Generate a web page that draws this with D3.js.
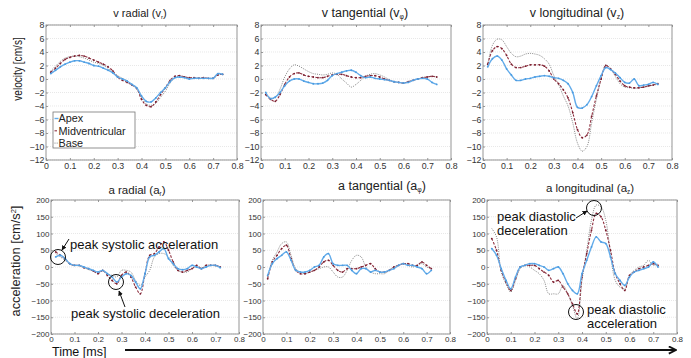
<!DOCTYPE html>
<html>
<head>
<meta charset="utf-8">
<script src="https://cdn.jsdelivr.net/npm/d3@7"></script>
<style>
  body { margin: 0; background: #fff; }
  text { font-family: "Liberation Sans", Arial, sans-serif; }
</style>
</head>
<body>
<svg id="chart" width="691" height="358"></svg>
<script>
// time axes (s)
const tTop = [0.02,0.04,0.06,0.08,0.10,0.12,0.14,0.16,0.18,0.20,0.22,0.24,0.26,0.28,0.30,0.32,0.34,0.36,0.38,0.40,0.42,0.44,0.46,0.48,0.50,0.52,0.54,0.56,0.58,0.60,0.62,0.64,0.66,0.68,0.70,0.72,0.74];
const tBottom = [0.02,0.04,0.06,0.08,0.10,0.12,0.14,0.16,0.18,0.20,0.22,0.24,0.26,0.28,0.30,0.32,0.34,0.36,0.38,0.40,0.42,0.44,0.46,0.48,0.50,0.52,0.54,0.56,0.58,0.60,0.62,0.64,0.66,0.68,0.70,0.72];

const seriesNames = ["Apex", "Midventricular", "Base"];

// velocity [cm/s]
const vrApex = [0.8,1.3,1.8,2.2,2.5,2.7,2.7,2.5,2.3,2.0,1.9,1.6,1.3,0.9,0.3,0.0,-0.3,-0.8,-1.3,-2.5,-3.3,-3.4,-2.8,-2.0,-1.3,-0.4,0.2,0.3,0.2,0.0,0.1,0.1,0.1,0.1,0.1,0.8,0.7];
const vrMid  = [1.0,1.6,2.3,2.9,3.2,3.4,3.5,3.4,3.1,2.8,2.5,2.2,1.8,1.2,0.3,-0.2,-0.5,-0.9,-1.4,-3.0,-3.9,-4.1,-3.4,-2.3,-1.3,-0.2,0.4,0.5,0.3,0.2,0.2,0.1,0.2,0.1,0.1,0.6,0.7];
const vrBase = [1.2,1.9,2.6,3.1,3.3,3.4,3.3,3.1,2.8,2.5,2.3,2.0,1.6,1.0,0.5,0.1,-0.3,-0.8,-1.5,-2.7,-3.7,-3.9,-3.6,-2.7,-1.8,-0.6,0.2,0.4,0.3,0.1,0.1,0.2,0.1,0.1,0.2,0.6,0.7];

const vtApex = [-2.0,-2.9,-2.7,-2.0,-1.0,-0.3,0.0,0.0,-0.3,-0.5,-0.7,-0.7,-0.6,-0.2,0.5,0.8,1.0,1.2,1.3,1.0,0.5,0.2,0.3,0.1,0.0,-0.1,-0.2,-0.4,-0.5,-0.6,-0.5,-0.2,0.0,0.1,0.0,-0.5,-0.8];
const vtMid  = [-2.3,-3.0,-3.3,-2.3,-0.8,0.3,0.8,0.9,0.6,0.4,0.3,0.2,0.2,0.4,0.6,0.7,0.7,0.5,0.3,0.2,0.2,0.4,0.5,0.5,0.3,0.0,-0.2,-0.4,-0.5,-0.6,-0.4,-0.2,0.0,0.2,0.3,0.4,0.3];
const vtBase = [-2.2,-2.8,-2.8,-1.5,0.3,1.5,2.1,1.9,1.5,1.1,0.8,0.7,0.6,0.7,0.9,0.7,0.0,-0.6,-1.2,-0.8,-0.2,0.4,0.7,0.8,0.6,0.3,-0.1,-0.4,-0.5,-0.6,-0.4,-0.2,0.0,0.2,0.3,0.4,0.3];

const vzApex = [1.8,3.0,3.4,2.8,1.5,0.6,-0.2,-0.2,0.0,0.1,0.3,0.4,0.5,0.4,0.2,0.1,-0.2,-0.7,-2.0,-4.2,-4.3,-3.8,-2.6,-1.0,0.5,1.7,1.4,0.9,0.2,-0.5,-0.6,0.0,-1.0,-0.9,-0.8,-0.5,-0.8];
const vzMid  = [2.2,4.2,4.8,4.5,3.5,2.2,1.7,1.7,1.9,2.1,2.1,2.1,1.9,1.2,0.0,-0.7,-1.6,-2.8,-5.0,-7.5,-8.7,-8.3,-5.5,-2.5,0.0,2.0,1.5,0.7,-0.3,-1.0,-1.2,-1.3,-1.3,-1.2,-1.0,-0.9,-0.7];
const vzBase = [2.0,5.0,5.9,5.8,4.8,3.8,3.3,3.4,3.7,3.8,3.7,3.5,3.0,2.2,0.5,-0.8,-2.5,-4.0,-6.5,-9.5,-10.7,-10.0,-6.5,-3.0,0.0,2.1,1.5,0.4,-0.7,-1.2,-1.3,-1.4,-1.3,-1.2,-1.1,-0.9,-0.8];

// acceleration [cm/s^2]
const arApex = [30,35,25,10,5,5,0,-5,-10,-15,-10,-20,-30,-45,-30,-20,-25,-45,-65,-20,30,35,45,55,25,10,-5,-8,-5,5,0,-5,0,5,5,-2];
const arMid  = [45,35,25,10,5,5,-2,-5,-12,-20,-10,-25,-40,-50,-25,-15,-30,-60,-80,-20,35,40,60,75,50,15,-10,-15,-10,-5,5,-5,5,5,5,0];
const arBase = [40,30,20,8,5,3,-2,-8,-12,-18,-12,-20,-25,-30,-10,-10,-15,-40,-55,-30,-10,30,40,40,30,5,-10,-15,-15,-5,0,-3,5,5,3,0];

const atApex = [-25,10,25,35,45,20,-10,-15,-15,-10,0,5,30,40,10,5,5,5,-10,-20,-5,-5,-15,-10,-15,-15,-10,-5,5,10,5,5,0,-5,-20,-10];
const atMid  = [-35,15,35,55,65,25,-10,-20,-20,-15,-10,0,15,20,5,-10,-15,-5,-5,-5,0,5,10,-5,-15,-15,-10,0,5,10,10,5,5,15,5,-5];
const atBase = [-30,20,45,70,75,35,-5,-15,-20,-15,-10,-5,0,0,-15,-30,-30,-10,20,35,30,0,-15,-20,-20,-20,-10,0,5,10,5,0,5,10,0,-5];

const azApex = [55,35,-5,-40,-65,-30,0,5,10,10,5,0,-10,-5,0,-20,-50,-70,-80,-20,20,60,90,75,70,30,-20,-40,-55,-30,-15,-10,-5,0,15,0];
const azMid  = [85,50,-10,-45,-70,-35,0,5,5,5,-5,-15,-25,-45,-40,-60,-80,-110,-140,-30,40,110,160,150,110,50,-20,-50,-70,-25,-15,-5,0,5,10,5];
const azBase = [115,90,-15,-50,-75,-40,-5,5,0,-10,-20,-40,-80,-80,-80,-55,-80,-115,-155,-40,50,140,185,180,140,40,-40,-60,-65,-25,-10,0,5,20,5,10];

const xTicks = [0,0.1,0.2,0.3,0.4,0.5,0.6,0.7,0.8];
const vTicks = [8,6,4,2,0,-2,-4,-6,-8,-10,-12];
const aTicks = [200,150,100,50,0,-50,-100,-150,-200];

const svg = d3.select("#chart");

const styles = [
  {color: "#62abea", width: 1.4, dash: null, dot: "#4a9be0"},
  {color: "#8e2f3f", width: 1.1, dash: "2.5,1.5", dot: "#7a1f2f"},
  {color: "#666", width: 0.8, dash: "1,1.2", dot: null}
];

const panels = [
  {box: [46, 237, 25, 160], dom: [-12, 8], ticks: vTicks, t: tTop, data: [vrApex, vrMid, vrBase], title: ["v radial (v", "r", ")"], tx: 140, ty: 17, fs: 11, tfs: 8.8},
  {box: [261, 451, 25, 160], dom: [-12, 8], ticks: vTicks, t: tTop, data: [vtApex, vtMid, vtBase], title: ["v tangential (v", "φ", ")"], tx: 365, ty: 17, fs: 12.5, tfs: 8.8},
  {box: [483, 672, 25, 160], dom: [-12, 8], ticks: vTicks, t: tTop, data: [vzApex, vzMid, vzBase], title: ["v longitudinal (v", "z", ")"], tx: 577, ty: 17, fs: 12.5, tfs: 8.8},
  {box: [51, 239, 200, 334], dom: [-200, 200], ticks: aTicks, t: tBottom, data: [arApex, arMid, arBase], title: ["a radial (a", "r", ")"], tx: 137, ty: 194, fs: 11.5, tfs: 8},
  {box: [263, 450, 200, 334], dom: [-200, 200], ticks: aTicks, t: tBottom, data: [atApex, atMid, atBase], title: ["a tangential (a", "φ", ")"], tx: 382, ty: 190, fs: 12.5, tfs: 8},
  {box: [487, 677, 200, 334], dom: [-200, 200], ticks: aTicks, t: tBottom, data: [azApex, azMid, azBase], title: ["a longitudinal (a", "z", ")"], tx: 590, ty: 192, fs: 11.5, tfs: 8}
];

panels.forEach(p => {
  const [x0, x1, y0, y1] = p.box;
  const x = d3.scaleLinear().domain([0, 0.8]).range([x0, x1]);
  const y = d3.scaleLinear().domain(p.dom).range([y1, y0]);
  const g = svg.append("g");

  // grid
  g.selectAll(".grid").data(p.ticks).join("line")
    .attr("x1", x0).attr("x2", x1)
    .attr("y1", d => y(d)).attr("y2", d => y(d))
    .attr("stroke", "#d8d8d8").attr("stroke-width", 0.6)
    .attr("stroke-dasharray", "1,1");

  // axes
  const ax = g.append("g").attr("transform", `translate(0,${y1})`)
    .call(d3.axisBottom(x).tickValues(xTicks).tickSize(-2).tickPadding(2.5).tickFormat(d => d === 0 ? "0" : d3.format(".1f")(d)));
  const ay = g.append("g").attr("transform", `translate(${x0},0)`)
    .call(d3.axisLeft(y).tickValues(p.ticks).tickSize(-2).tickPadding(1.5));
  const axTop = g.append("g").attr("transform", `translate(0,${y0})`)
    .call(d3.axisTop(x).tickValues(xTicks).tickSize(-2).tickFormat(""));
  [ax, ay, axTop].forEach(a => {
    a.select(".domain").remove();
    a.selectAll("line").attr("stroke", "#999");
    a.selectAll("text").attr("font-size", p.tfs).attr("fill", "#333")
      .attr("font-family", "Liberation Sans, Arial, sans-serif");
  });

  // box
  g.append("rect").attr("x", x0).attr("y", y0)
    .attr("width", x1 - x0).attr("height", y1 - y0)
    .attr("fill", "none").attr("stroke", "#8a8a8a").attr("stroke-width", 0.9);

  // series, base drawn first
  [2, 1, 0].forEach(i => {
    const vals = p.data[i];
    const st = styles[i];
    const pts = vals.map((v, k) => [p.t[k], v]);
    const line = d3.line().x(d => x(d[0])).y(d => y(d[1])).curve(d3.curveCatmullRom.alpha(0.5));
    g.append("path").attr("d", line(pts))
      .attr("fill", "none").attr("stroke", st.color)
      .attr("stroke-width", st.width)
      .attr("stroke-dasharray", st.dash);
    if (st.dot) {
      g.selectAll(null).data(pts).join("circle")
        .attr("cx", d => x(d[0])).attr("cy", d => y(d[1]))
        .attr("r", 0.9).attr("fill", st.dot);
    }
  });

  // title
  const tt = svg.append("text").attr("x", p.tx).attr("y", p.ty)
    .attr("text-anchor", "middle").attr("font-size", p.fs).attr("fill", "#222");
  tt.append("tspan").text(p.title[0]);
  tt.append("tspan").attr("font-size", p.fs * 0.55).attr("dy", 2).text(p.title[1]);
  tt.append("tspan").attr("dy", -2).text(p.title[2]);
});

// legend
const lg = svg.append("g");
lg.append("rect").attr("x", 53).attr("y", 112).attr("width", 82).attr("height", 36)
  .attr("fill", "#fff").attr("stroke", "#777").attr("stroke-width", 0.8);
seriesNames.forEach((n, i) => {
  const yy = 118.5 + i * 12.3;
  lg.append("line").attr("x1", 54.5).attr("x2", 58.5).attr("y1", yy).attr("y2", yy)
    .attr("stroke", styles[i].color).attr("stroke-width", styles[i].width)
    .attr("stroke-dasharray", styles[i].dash);
  lg.append("text").attr("x", 58.5).attr("y", yy + 3.8).attr("font-size", 10.8)
    .attr("fill", "#222").text(n);
});

// y labels
svg.append("text").attr("transform", "translate(22,69) rotate(-90) scale(0.75,1)")
  .attr("text-anchor", "middle").attr("font-size", 13.5).attr("fill", "#222")
  .text("velocity [cm/s]");
const al = svg.append("text").attr("transform", "translate(20,261) rotate(-90)")
  .attr("text-anchor", "middle").attr("font-size", 12.8).attr("fill", "#222");
al.append("tspan").text("acceleration [cm/s");
al.append("tspan").attr("font-size", 7.5).attr("dy", -4.5).text("2");
al.append("tspan").attr("dy", 4.5).text("]");

// time label & arrow
svg.append("text").attr("x", 52).attr("y", 356).attr("font-size", 12.5).attr("fill", "#111").text("Time [ms]");
const defs = svg.append("defs");
defs.append("marker").attr("id", "ah").attr("viewBox", "0 0 10 10")
  .attr("refX", 9).attr("refY", 5).attr("markerWidth", 9).attr("markerHeight", 9)
  .attr("orient", "auto").attr("markerUnits", "userSpaceOnUse")
  .append("path").attr("d", "M1,1 L9,5 L1,9").attr("fill", "none").attr("stroke", "#111").attr("stroke-width", 2);
svg.append("line").attr("x1", 125).attr("x2", 676).attr("y1", 350).attr("y2", 350)
  .attr("stroke", "#111").attr("stroke-width", 2).attr("marker-end", "url(#ah)");

defs.append("marker").attr("id", "ah2").attr("viewBox", "0 0 10 10")
  .attr("refX", 9).attr("refY", 5).attr("markerWidth", 5).attr("markerHeight", 5)
  .attr("orient", "auto").attr("markerUnits", "userSpaceOnUse")
  .append("path").attr("d", "M0,0 L10,5 L0,10 Z").attr("fill", "#111");

// annotations
const ann = svg.append("g").attr("font-size", 13).attr("fill", "#111");
function circ(cx, cy, r) {
  svg.append("ellipse").attr("cx", cx).attr("cy", cy).attr("rx", r).attr("ry", r)
    .attr("fill", "none").attr("stroke", "#111").attr("stroke-width", 1);
}
function arrow(xa, ya, xb, yb) {
  svg.append("line").attr("x1", xa).attr("y1", ya).attr("x2", xb).attr("y2", yb)
    .attr("stroke", "#111").attr("stroke-width", 1).attr("marker-end", "url(#ah2)");
}

ann.append("text").attr("x", 70).attr("y", 249).text("peak systolic acceleration");
circ(58, 257, 7.5);
arrow(69, 239, 62, 250);

ann.append("text").attr("x", 71).attr("y", 318).text("peak systolic deceleration");
circ(116, 282, 7.5);
arrow(125, 307, 119, 291);

ann.append("text").attr("x", 497).attr("y", 221).text("peak diastolic");
ann.append("text").attr("x", 497).attr("y", 235).text("deceleration");
circ(594, 208, 7.5);
arrow(576, 218, 587, 211);

ann.append("text").attr("x", 587).attr("y", 314).text("peak diastolic");
ann.append("text").attr("x", 587).attr("y", 328).text("acceleration");
circ(576, 312, 7.5);
</script>
</body>
</html>
